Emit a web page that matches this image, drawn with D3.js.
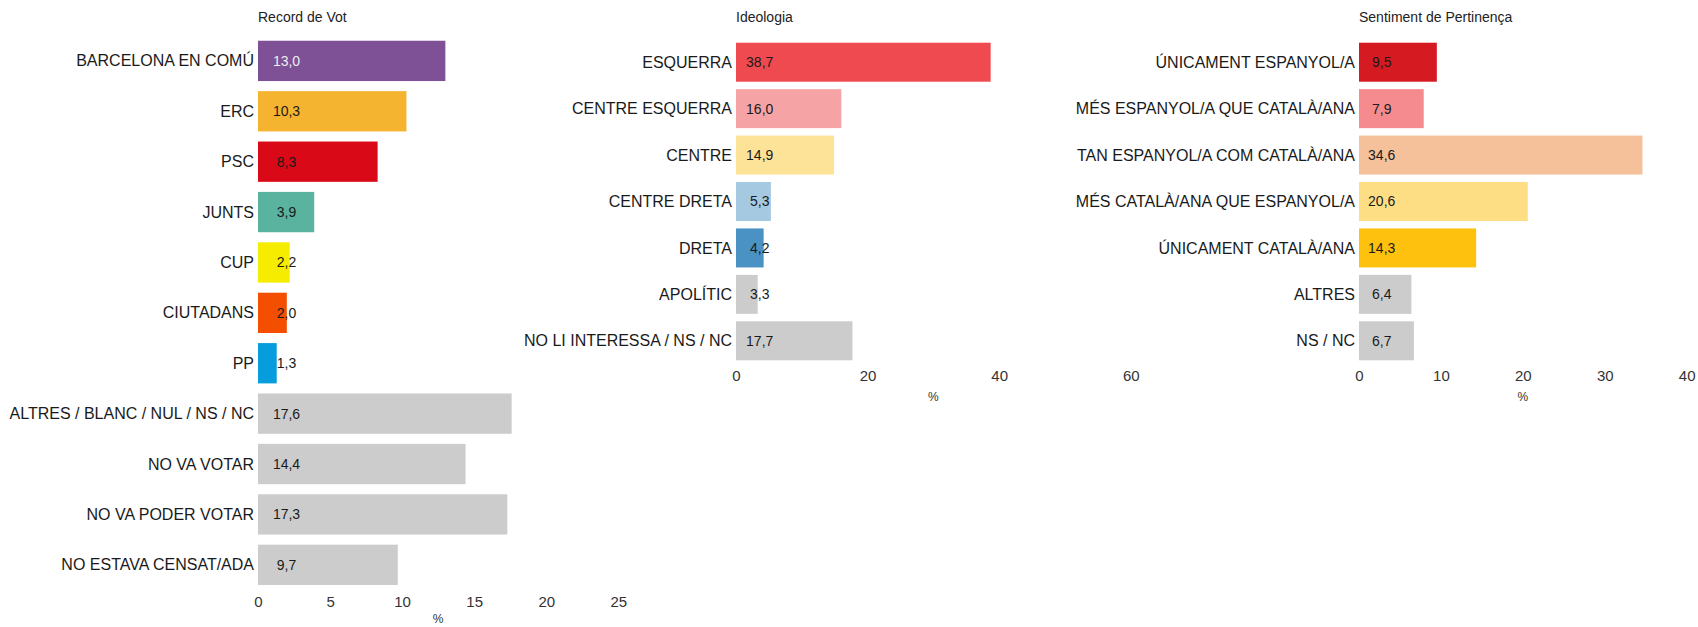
<!DOCTYPE html>
<html>
<head>
<meta charset="utf-8">
<script src="https://cdn.jsdelivr.net/npm/d3@7"></script>
<style>
  body { margin: 0; background: #fff; }
  svg { font-family: "Liberation Sans", Arial, sans-serif; }
</style>
</head>
<body>
<svg id="chart"></svg>
<script>
// data
let votCats = ['BARCELONA EN COMÚ', 'ERC', 'PSC', 'JUNTS', 'CUP', 'CIUTADANS', 'PP',
               'ALTRES / BLANC / NUL / NS / NC', 'NO VA VOTAR', 'NO VA PODER VOTAR', 'NO ESTAVA CENSAT/ADA'];
let votValues = [13.0, 10.3, 8.3, 3.9, 2.2, 2.0, 1.3, 17.6, 14.4, 17.3, 9.7];
let votColors = ['#7e5096', '#f4b42f', '#da0918', '#59b39e', '#f6ec00', '#f44f00', '#079ddd',
                 '#cccccc', '#cccccc', '#cccccc', '#cccccc'];
let votTicks = [0, 5, 10, 15, 20, 25];

let ideoCats = ['ESQUERRA', 'CENTRE ESQUERRA', 'CENTRE', 'CENTRE DRETA', 'DRETA', 'APOLÍTIC', 'NO LI INTERESSA / NS / NC'];
let ideoValues = [38.7, 16.0, 14.9, 5.3, 4.2, 3.3, 17.7];
let ideoColors = ['#f04a51', '#f6a3a6', '#fde398', '#a5c9e1', '#4a91c4', '#cccccc', '#cccccc'];
let ideoTicks = [0, 20, 40, 60];

let sentCats = ['ÚNICAMENT ESPANYOL/A', 'MÉS ESPANYOL/A QUE CATALÀ/ANA', 'TAN ESPANYOL/A COM CATALÀ/ANA',
                'MÉS CATALÀ/ANA QUE ESPANYOL/A', 'ÚNICAMENT CATALÀ/ANA', 'ALTRES', 'NS / NC'];
let sentValues = [9.5, 7.9, 34.6, 20.6, 14.3, 6.4, 6.7];
let sentColors = ['#d51b21', '#f58b8f', '#f4c19b', '#fede84', '#fec10d', '#cccccc', '#cccccc'];
let sentTicks = [0, 10, 20, 30, 40];

let width = 1698;
let height = 627;

let svg = d3.select('#chart')
            .attr('width', width)
            .attr('height', height);

let fmt = d3.formatLocale({decimal: ',', thousands: '.', grouping: [3], currency: ['', '€']}).format('.1f');

/*one horizontal bar panel*/
let drawPanel = (p) => {
    let x = d3.scaleLinear()
              .domain([0, p.max])
              .range([p.x0, p.x1]);
    let y = d3.scaleBand()
              .domain(p.cats)
              .range([p.y0, p.y1])
              .paddingInner(p.pad)
              .paddingOuter(p.pad / 2);

    let g = svg.append('g');

    g.append('text')
        .attr('x', p.x0)
        .attr('y', 21.5)
        .attr('font-size', 14)
        .attr('fill', '#222')
        .text(p.title);

    g.selectAll('rect')
        .data(p.values)
        .enter()
        .append('rect')
        .attr('x', x(0))
        .attr('y', (d, i) => y(p.cats[i]))
        .attr('width', (d) => x(d) - x(0))
        .attr('height', y.bandwidth())
        .attr('fill', (d, i) => p.colors[i]);

    g.selectAll('.cat')
        .data(p.cats)
        .enter()
        .append('text')
        .attr('class', 'cat')
        .attr('x', x(0) - 4)
        .attr('y', (d) => y(d) + y.bandwidth() / 2)
        .attr('dy', '0.35em')
        .attr('text-anchor', 'end')
        .attr('font-size', 16)
        .attr('fill', '#1a1a1a')
        .text((d) => d);

    g.selectAll('.val')
        .data(p.values)
        .enter()
        .append('text')
        .attr('class', 'val')
        .attr('x', x(0) + p.labelOffset)
        .attr('y', (d, i) => y(p.cats[i]) + y.bandwidth() / 2)
        .attr('dy', '0.35em')
        .attr('text-anchor', 'middle')
        .attr('font-size', 14)
        .attr('fill', (d, i) => i === 0 && p.lightFirst ? '#eeeeee' : '#1a1a1a')
        .text((d) => fmt(d));

    let axis = g.append('g')
        .attr('transform', 'translate(0,' + p.tickY + ')')
        .call(d3.axisBottom(x).tickValues(p.ticks).tickSize(0).tickPadding(0));
    axis.select('.domain').remove();
    axis.selectAll('text')
        .attr('y', 0)
        .attr('dy', '0.35em')
        .attr('font-size', 15)
        .attr('font-family', '"Liberation Sans", Arial, sans-serif')
        .attr('fill', '#333');

    g.append('text')
        .attr('x', (p.x0 + p.x1) / 2)
        .attr('y', p.tickY + p.unitGap)
        .attr('dy', '0.35em')
        .attr('text-anchor', 'middle')
        .attr('font-size', 12)
        .attr('fill', '#333')
        .text('%');
};

drawPanel({title: 'Record de Vot', cats: votCats, values: votValues, colors: votColors, ticks: votTicks,
           max: 25, x0: 258, x1: 618.3, y0: 35.7, y1: 590, pad: 0.2, tickY: 601.7, unitGap: 17.5,
           labelOffset: 28.5, lightFirst: true});
drawPanel({title: 'Ideologia', cats: ideoCats, values: ideoValues, colors: ideoColors, ticks: ideoTicks,
           max: 60, x0: 736, x1: 1130.8, y0: 39, y1: 364, pad: 0.16, tickY: 376, unitGap: 21,
           labelOffset: 23.7});
drawPanel({title: 'Sentiment de Pertinença', cats: sentCats, values: sentValues, colors: sentColors, ticks: sentTicks,
           max: 40, x0: 1359, x1: 1686.7, y0: 39, y1: 364, pad: 0.16, tickY: 376, unitGap: 21,
           labelOffset: 22.7});
</script>
</body>
</html>
